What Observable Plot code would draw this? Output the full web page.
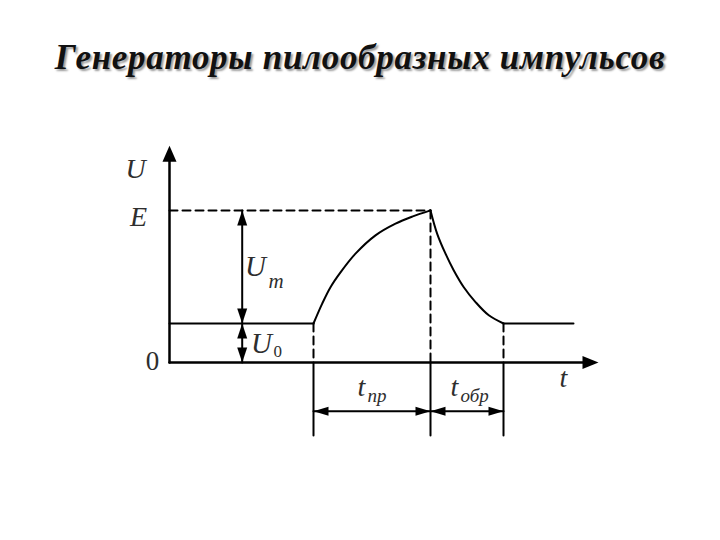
<!DOCTYPE html>
<html>
<head>
<meta charset="utf-8">
<script src="https://cdn.jsdelivr.net/npm/d3@7"></script>
<script src="https://cdn.jsdelivr.net/npm/@observablehq/plot@0.6"></script>
<style>
  html, body { margin: 0; padding: 0; background: #fff; }
  #title {
    height: 100px; box-sizing: border-box; padding-top: 41px;
    font-family: "Liberation Serif", serif; font-weight: bold; font-style: italic;
    font-size: 35px; line-height: 34px; letter-spacing: 0.7px; text-align: center; color: #111;
    text-shadow: 2px 2px 2px #9a9a9a;
  }
</style>
</head>
<body>
<div id="title">Генераторы пилообразных импульсов</div>
<div id="chart"></div>
<script>
// ---- values (time in arbitrary units, voltage in arbitrary units) ----
const U0 = 1.0;          // base level
const E = 3.9;           // peak level
const tStart = 14.4;     // start of ramp
const tPeak = 26.1;      // peak
const tEnd = 33.4;       // end of recovery
const tStop = 40.4;      // end of drawn waveform
const tAxisMax = 42.9;   // axis extents
const uAxisMax = 5.56;
const riseT = [14.4, 15.27, 16.1, 17.1, 18.6, 20.6, 22.6, 24.27, 26.1];
const riseU = [1.0, 1.51, 1.93, 2.31, 2.79, 3.26, 3.56, 3.74, 3.9];
const fallT = [26.1, 26.77, 27.6, 28.43, 29.43, 30.6, 31.93, 33.4];
const fallU = [3.9, 3.30, 2.79, 2.36, 1.93, 1.55, 1.21, 1.0];
const tUm = 7.27;        // position of the Um / U0 dimension arrows
const dimU = -1.25;      // level of the time dimension arrows
const dimBottom = -1.87; // bottom of the time extension lines

const rise = riseT.map((t, i) => [t, riseU[i]]);
const fall = fallT.map((t, i) => [t, fallU[i]]);

const tri = {
  draw(ctx, l, r) {
    ctx.moveTo(0, -l); ctx.lineTo(-r, 0); ctx.lineTo(r, 0); ctx.closePath();
  }
};
const head = (opts) => ({shape: tri, anchor: "end", fill: "black", stroke: "none", ...opts});

const axisHeadsV = [{x: 0, y: uAxisMax, a: 0}];
const axisHeadsH = [{x: tAxisMax, y: 0, a: 90}];
const uHeads = [
  {x: tUm, y: E, a: 0}, {x: tUm, y: U0, a: 180},
  {x: tUm, y: U0, a: 0}, {x: tUm, y: 0, a: 180}
];
const tHeads = [
  {x: tStart, y: dimU, a: 270}, {x: tPeak, y: dimU, a: 90},
  {x: tPeak, y: dimU, a: 270}, {x: tEnd, y: dimU, a: 90}
];

const serif = {fontFamily: "Liberation Serif", fill: "#2e2e2e", lineAnchor: "bottom"};
const labels = [
  {x: -3.4, y: 4.74, s: "U", size: 28, anchor: "middle", style: "italic"},
  {x: -3.1, y: 3.51, s: "E", size: 28, anchor: "middle", style: "italic"},
  {x: -1.7, y: -0.2, s: "0", size: 27, anchor: "middle", style: "normal"},
  {x: 8.6, y: 2.23, s: "U", size: 29, anchor: "middle", style: "italic"},
  {x: 9.9, y: 1.92, s: "m", size: 21, anchor: "start", style: "italic"},
  {x: 9.2, y: 0.24, s: "U", size: 29, anchor: "middle", style: "italic"},
  {x: 10.4, y: 0.13, s: "0", size: 17, anchor: "start", style: "normal"},
  {x: 39.4, y: -0.64, s: "t", size: 28, anchor: "middle", style: "italic"},
  {x: 19.2, y: -0.85, s: "t", size: 28, anchor: "middle", style: "italic"},
  {x: 19.8, y: -1.0, s: "пр", size: 19, anchor: "start", style: "italic"},
  {x: 28.5, y: -0.85, s: "t", size: 28, anchor: "middle", style: "italic"},
  {x: 29.1, y: -1.0, s: "обр", size: 19, anchor: "start", style: "italic"}
];
const textMarks = labels.map(d => Plot.text([d], {
  x: "x", y: "y", text: "s", fontSize: d.size, textAnchor: d.anchor,
  ...serif, fontStyle: d.style
}));

const dash = "8,5";
const chart = Plot.plot({
  width: 720, height: 440,
  x: {domain: [0, 43], range: [169, 599], axis: null},
  y: {domain: [-2, 5.6], range: [340, 43.6], axis: null},
  style: {background: "white", overflow: "visible"},
  marks: [
    // dashed guide lines
    Plot.line([[0, E], [tPeak, E]], {stroke: "black", strokeWidth: 2, strokeDasharray: dash}),
    Plot.line([[tStart, U0], [tStart, 0]], {stroke: "black", strokeWidth: 2, strokeDasharray: dash}),
    Plot.line([[tPeak, E], [tPeak, 0]], {stroke: "black", strokeWidth: 2, strokeDasharray: dash}),
    Plot.line([[tEnd, U0], [tEnd, 0]], {stroke: "black", strokeWidth: 2, strokeDasharray: dash}),
    // extension lines below the t axis
    ...[tStart, tPeak, tEnd].map(t => Plot.line([[t, 0], [t, dimBottom]], {stroke: "black", strokeWidth: 2})),
    // time dimension lines
    Plot.line([[tStart, dimU], [tEnd, dimU]], {stroke: "black", strokeWidth: 2}),
    // voltage dimension lines
    Plot.line([[tUm, 0], [tUm, E]], {stroke: "black", strokeWidth: 2}),
    // waveform
    Plot.line([[0, U0], [tStart, U0]], {stroke: "black", strokeWidth: 2}),
    Plot.line(rise, {stroke: "black", strokeWidth: 2, curve: "catmull-rom"}),
    Plot.line(fall, {stroke: "black", strokeWidth: 2, curve: "catmull-rom"}),
    Plot.line([[tEnd, U0], [tStop, U0]], {stroke: "black", strokeWidth: 2}),
    // axes
    Plot.line([[0, 0], [tAxisMax - 1, 0]], {stroke: "black", strokeWidth: 2.5}),
    Plot.line([[0, 0], [0, uAxisMax - 0.3]], {stroke: "black", strokeWidth: 2.5}),
    // arrowheads
    Plot.vector(axisHeadsV, head({x: "x", y: "y", rotate: "a", length: 16, r: 7})),
    Plot.vector(axisHeadsH, head({x: "x", y: "y", rotate: "a", length: 16, r: 6.5})),
    Plot.vector(uHeads, head({x: "x", y: "y", rotate: "a", length: 15, r: 5})),
    Plot.vector(tHeads, head({x: "x", y: "y", rotate: "a", length: 15, r: 4.5})),
    ...textMarks
  ]
});
document.getElementById("chart").appendChild(chart);
</script>
</body>
</html>
